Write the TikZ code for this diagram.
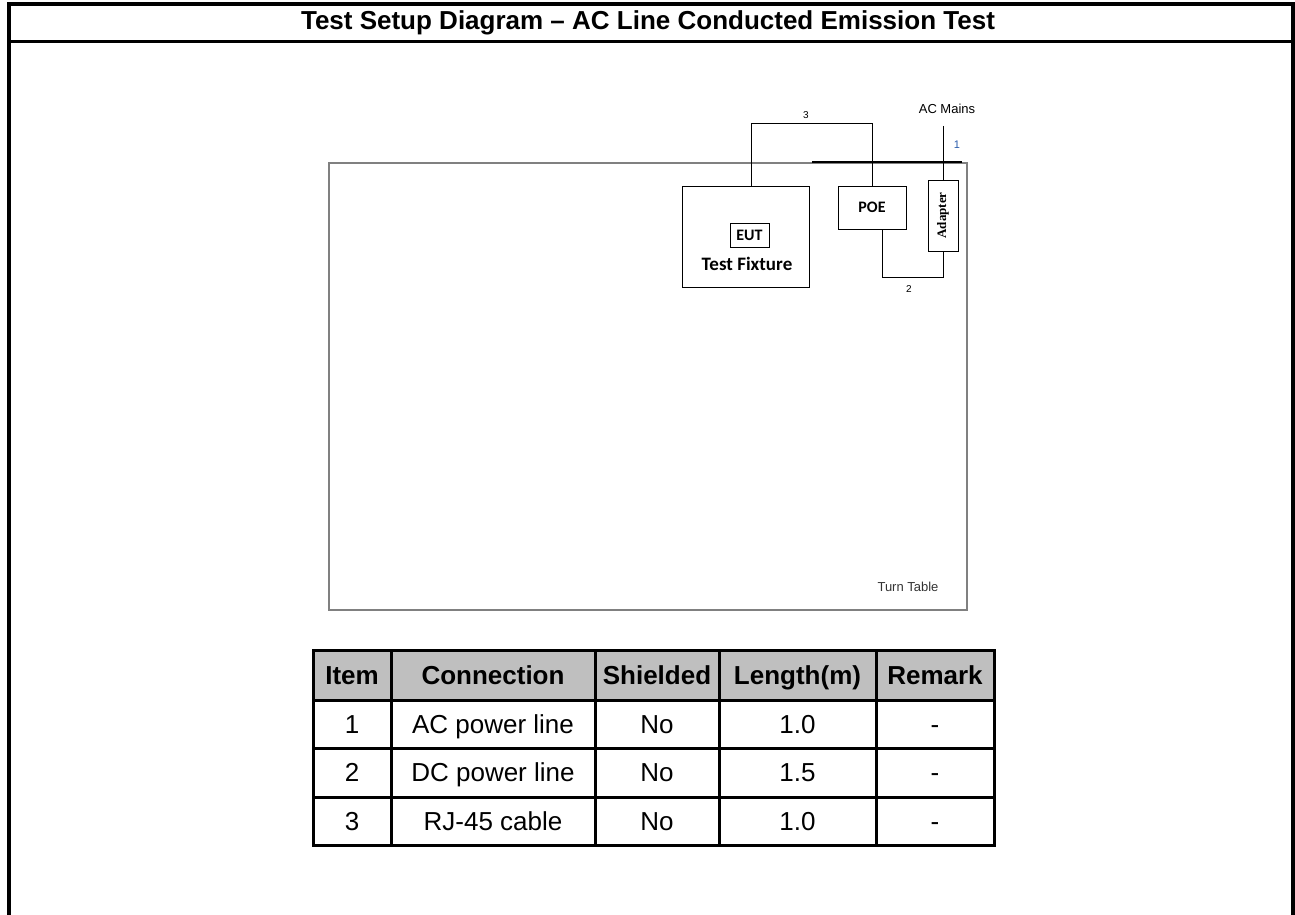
\documentclass[tikz,border=0pt]{standalone}
\usepackage{fontspec}
\setmainfont{Liberation Sans}
\newfontfamily\calfont{Carlito}
\newfontfamily\serfont{Liberation Serif}
\usetikzlibrary{positioning}
\definecolor{itemblue}{RGB}{40,90,170}
\tikzset{box/.style={draw=black, line width=0.9pt, inner sep=0pt}}
\tikzset{cable/.style={draw=black, line width=0.9pt}}
\tikzset{cablelbl/.style={font=\fontsize{10}{12}\selectfont}}
\tikzset{gridline/.style={line width=3pt, line cap=rect}}
\tikzset{headcell/.style={anchor=base, font=\bfseries\fontsize{26}{30}\selectfont}}
\tikzset{cell/.style={anchor=base, font=\fontsize{26}{30}\selectfont}}

\begin{document}
\begin{tikzpicture}[x=1pt,y=-1pt]
    \useasboundingbox (0,0) rectangle (1295,915);

    % outer frame and title
    \draw[line width=3.5pt] (9,915) -- (9,4) -- (1293,4) -- (1293,915);
    \draw[line width=3pt] (9,42) -- (1293,42);
    \node (title) at (648,23) [font=\bfseries\fontsize{26}{30}\selectfont] {Test Setup Diagram – AC Line Conducted Emission Test};

    % turn table
    \node (turntable) [draw=black!50, line width=1.5pt, minimum width=638, minimum height=447, inner sep=0pt] at (648,386.5) {};
    \node (tttext) [font=\fontsize{13}{15}\selectfont, text=black!80] at (908,587) {Turn Table};

    \node (fixture) [box, minimum width=127, minimum height=101] at (745.5,236.5) {};
    \node (eut) [box, minimum width=39, minimum height=24, font=\calfont\bfseries\fontsize{16}{18}\selectfont] at (749.5,235) {EUT};
    \node (fixtext) [font=\calfont\bfseries\fontsize{19}{21}\selectfont] at (747,264) {Test Fixture};
    \node (poe) [box, minimum width=68, minimum height=43, font=\calfont\bfseries\fontsize{16}{18}\selectfont] at (872,207.5) {POE};
    \node (adapter) [box, minimum width=30, minimum height=71] at (943,215.5) {};
    \node (adaptertext) [rotate=90, font=\serfont\bfseries\fontsize{13}{15}\selectfont] at (adapter) {Adapter};

    \coordinate (mains) at (943,126);
    \node (acmains) [font=\fontsize{13}{15}\selectfont] at (947,109) {AC Mains};

    % cables
    \draw[cable] ([xshift=6pt]fixture.north) -- ++(0,-62) -| (poe.north);
    \draw[cable] ([xshift=10pt]poe.south) -- ++(0,48) -| (adapter.south);
    \draw[cable] (mains) -- (adapter.north);
    \draw[line width=2pt] (812,162) -- (962,162);

    \node (lbl3) [cablelbl] at (806,115) {3};
    \node (lbl2) [cablelbl] at (909,289) {2};
    \node (lbl1) [cablelbl, font=\fontsize{11}{13}\selectfont, text=itemblue] at (957,145) {1};

    % cable table
    \fill[gray!50] (313,650) rectangle (994,700);
    \foreach \y in {650,700,748,797,845}
        \draw[gridline] (313,\y) -- (994,\y);
    \foreach \x in {313,391,595,719,876,994}
        \draw[gridline] (\x,650) -- (\x,845);

    \foreach \x/\t [count=\i] in {352/Item, 493/Connection, 657/Shielded, 797.5/Length(m), 935/Remark}
        \node (head\i) [headcell] at (\x,684) {\t};

    \foreach \y/\a/\b/\c/\d/\e [count=\r] in {733/1/AC power line/No/1.0/-, 781.5/2/DC power line/No/1.5/-, 830/3/RJ-45 cable/No/1.0/-} {
        \node (item\r) [cell] at (352,\y) {\a};
        \node (conn\r) [cell] at (493,\y) {\b};
        \node (shield\r) [cell] at (657,\y) {\c};
        \node (len\r) [cell] at (797.5,\y) {\d};
        \node (rem\r) [cell] at (935,\y) {\e};
    }

\end{tikzpicture}
\end{document}
